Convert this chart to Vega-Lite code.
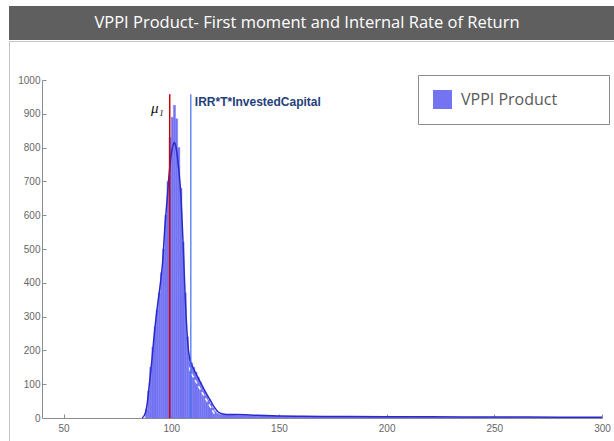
{
  "$schema": "https://vega.github.io/schema/vega-lite/v6.json",
  "padding": {"left": 8, "top": 6, "right": 0, "bottom": 0},
  "background": "white",
  "spacing": 0,
  "config": {"view": {"stroke": null}},
  "datasets": {
    "hist": [
      {"x0": 88, "x1": 89, "count": 25},
      {"x0": 89, "x1": 90, "count": 80},
      {"x0": 90, "x1": 91, "count": 150},
      {"x0": 91, "x1": 92, "count": 210},
      {"x0": 92, "x1": 93, "count": 270},
      {"x0": 93, "x1": 94, "count": 320},
      {"x0": 94, "x1": 95, "count": 370},
      {"x0": 95, "x1": 96, "count": 430},
      {"x0": 96, "x1": 97, "count": 500},
      {"x0": 97, "x1": 98, "count": 600},
      {"x0": 98, "x1": 99, "count": 700},
      {"x0": 99, "x1": 100, "count": 830},
      {"x0": 100, "x1": 101, "count": 890},
      {"x0": 101, "x1": 102, "count": 925},
      {"x0": 102, "x1": 103, "count": 885},
      {"x0": 103, "x1": 104, "count": 800},
      {"x0": 104, "x1": 105, "count": 680},
      {"x0": 105, "x1": 106, "count": 520},
      {"x0": 106, "x1": 107, "count": 370},
      {"x0": 107, "x1": 108, "count": 240},
      {"x0": 108, "x1": 109, "count": 180},
      {"x0": 109, "x1": 110, "count": 163},
      {"x0": 110, "x1": 111, "count": 150},
      {"x0": 111, "x1": 112, "count": 136},
      {"x0": 112, "x1": 113, "count": 121},
      {"x0": 113, "x1": 114, "count": 106},
      {"x0": 114, "x1": 115, "count": 92},
      {"x0": 115, "x1": 116, "count": 79},
      {"x0": 116, "x1": 117, "count": 66},
      {"x0": 117, "x1": 118, "count": 54},
      {"x0": 118, "x1": 119, "count": 42},
      {"x0": 119, "x1": 120, "count": 30},
      {"x0": 120, "x1": 121, "count": 20},
      {"x0": 121, "x1": 122, "count": 14},
      {"x0": 122, "x1": 123, "count": 11},
      {"x0": 123, "x1": 124, "count": 10},
      {"x0": 124, "x1": 125, "count": 10},
      {"x0": 125, "x1": 130, "count": 9},
      {"x0": 130, "x1": 135, "count": 8},
      {"x0": 135, "x1": 140, "count": 7},
      {"x0": 140, "x1": 145, "count": 7},
      {"x0": 145, "x1": 150, "count": 6},
      {"x0": 150, "x1": 155, "count": 5},
      {"x0": 155, "x1": 160, "count": 5},
      {"x0": 160, "x1": 165, "count": 5},
      {"x0": 165, "x1": 170, "count": 4},
      {"x0": 170, "x1": 175, "count": 4},
      {"x0": 175, "x1": 180, "count": 4},
      {"x0": 180, "x1": 185, "count": 4},
      {"x0": 185, "x1": 190, "count": 3},
      {"x0": 190, "x1": 195, "count": 3},
      {"x0": 195, "x1": 200, "count": 3},
      {"x0": 200, "x1": 205, "count": 3},
      {"x0": 205, "x1": 210, "count": 3},
      {"x0": 210, "x1": 215, "count": 2.5},
      {"x0": 215, "x1": 220, "count": 2.5},
      {"x0": 220, "x1": 225, "count": 2.5},
      {"x0": 225, "x1": 230, "count": 2},
      {"x0": 230, "x1": 235, "count": 2},
      {"x0": 235, "x1": 240, "count": 2},
      {"x0": 240, "x1": 245, "count": 2},
      {"x0": 245, "x1": 250, "count": 2},
      {"x0": 250, "x1": 255, "count": 2},
      {"x0": 255, "x1": 260, "count": 2},
      {"x0": 260, "x1": 265, "count": 1.5},
      {"x0": 265, "x1": 270, "count": 1.5},
      {"x0": 270, "x1": 275, "count": 1.5},
      {"x0": 275, "x1": 280, "count": 1.5},
      {"x0": 280, "x1": 285, "count": 1.5},
      {"x0": 285, "x1": 290, "count": 1.5},
      {"x0": 290, "x1": 295, "count": 1.5},
      {"x0": 295, "x1": 300, "count": 1.5}
    ],
    "density": [
      {"x": 86.5, "y": 0}, {"x": 88, "y": 15}, {"x": 89, "y": 50},
      {"x": 90, "y": 110}, {"x": 91, "y": 170}, {"x": 92, "y": 240}, {"x": 93, "y": 300},
      {"x": 94, "y": 350}, {"x": 95, "y": 400}, {"x": 96, "y": 460}, {"x": 97, "y": 560},
      {"x": 98, "y": 640}, {"x": 99, "y": 720}, {"x": 100, "y": 780}, {"x": 101, "y": 810},
      {"x": 101.4, "y": 815}, {"x": 102, "y": 808}, {"x": 103, "y": 765}, {"x": 104, "y": 700},
      {"x": 104.5, "y": 657}, {"x": 105, "y": 590}, {"x": 105.7, "y": 488}, {"x": 106.4, "y": 370},
      {"x": 107, "y": 290}, {"x": 108, "y": 200},
      {"x": 109, "y": 166}, {"x": 110, "y": 150}, {"x": 112, "y": 125}, {"x": 114, "y": 100},
      {"x": 116, "y": 76}, {"x": 118, "y": 54}, {"x": 120, "y": 32}, {"x": 122, "y": 17},
      {"x": 124, "y": 12}, {"x": 127, "y": 10}, {"x": 130, "y": 10}, {"x": 140, "y": 8},
      {"x": 150, "y": 6}, {"x": 160, "y": 5}, {"x": 180, "y": 4.5}, {"x": 200, "y": 4},
      {"x": 220, "y": 3.5}, {"x": 250, "y": 3}, {"x": 280, "y": 2.5}, {"x": 300, "y": 2}
    ],
    "fit": [
      {"x": 108.5, "y": 150}, {"x": 109, "y": 135}, {"x": 111, "y": 113}, {"x": 113, "y": 90},
      {"x": 115, "y": 68}, {"x": 117, "y": 46}, {"x": 119, "y": 24}, {"x": 120, "y": 13}
    ],
    "mu": [{"value": 99.3, "label": "μ₁"}],
    "irr": [{"value": 109.1, "label": "IRR*T*InvestedCapital"}]
  },
  "vconcat": [
    {
      "width": 606,
      "height": 34,
      "view": {"fill": "#5f5f5f", "stroke": null},
      "data": {"values": [{"title": "VPPI Product- First moment and Internal Rate of Return"}]},
      "mark": {"type": "text", "color": "white", "font": "Open Sans", "fontSize": 16.5, "baseline": "middle", "align": "center", "dx": -5},
      "encoding": {"text": {"field": "title", "type": "nominal"}}
    },
    {
      "width": 606,
      "height": 401,
      "view": {"fill": "white", "stroke": "#c4c4c4"},
      "layer": [
        {
          "data": {"name": "hist"},
          "mark": {"type": "rect", "stroke": "#7474f2", "strokeWidth": 0.4},
          "encoding": {
            "x": {
              "field": "x0", "type": "quantitative",
              "scale": {"domain": [40, 300], "range": [33, 593], "nice": false, "zero": false},
              "axis": {
                "title": null, "grid": false, "values": [50, 100, 150, 200, 250, 300], "format": "d",
                "offset": -24, "tickSize": -4, "labelPadding": 9, "labelFlush": false,
                "domainColor": "#8c8c8c", "tickColor": "#8c8c8c", "labelColor": "#666666",
                "labelFont": "Liberation Sans", "labelFontSize": 10
              }
            },
            "x2": {"field": "x1"},
            "y": {
              "field": "count", "type": "quantitative",
              "scale": {"domain": [0, 1000], "range": [377, 39], "nice": false},
              "axis": {
                "title": null, "grid": false, "values": [0, 100, 200, 300, 400, 500, 600, 700, 800, 900, 1000], "format": "d",
                "offset": -33, "tickSize": -4, "labelPadding": 6, "labelFlush": false,
                "domainColor": "#8c8c8c", "tickColor": "#8c8c8c", "labelColor": "#666666",
                "labelFont": "Liberation Sans", "labelFontSize": 10
              }
            },
            "y2": {"datum": 0},
            "color": {
              "datum": "VPPI Product",
              "scale": {"range": ["#7474f2"]},
              "legend": {
                "title": null, "orient": "none", "legendX": 409, "legendY": 69,
                "symbolType": "square", "symbolSize": 361, "symbolStrokeWidth": 0, "symbolOpacity": 1,
                "symbolFillColor": "#6666ff",
                "labelFont": "Open Sans", "labelFontSize": 16, "labelColor": "#595959",
                "labelOffset": 9, "padding": 15, "strokeColor": "#8c8c8c", "fillColor": "white",
                "labelExpr": "datum.label + '\u2800\u2800\u2800'"
              }
            }
          }
        },
        {
          "data": {"name": "fit"},
          "mark": {"type": "line", "color": "white", "strokeWidth": 1.5, "strokeDash": [4, 3]},
          "encoding": {
            "x": {"field": "x", "type": "quantitative"},
            "y": {"field": "y", "type": "quantitative"}
          }
        },
        {
          "data": {"name": "density"},
          "mark": {"type": "line", "color": "#2a2ac8", "strokeWidth": 1.5, "interpolate": "monotone"},
          "encoding": {
            "x": {"field": "x", "type": "quantitative"},
            "y": {"field": "y", "type": "quantitative"}
          }
        },
        {
          "data": {"name": "mu"},
          "mark": {"type": "rule", "color": "#cc0000", "strokeWidth": 1.5},
          "encoding": {
            "x": {"field": "value", "type": "quantitative"},
            "y": {"datum": 958, "type": "quantitative"},
            "y2": {"datum": 0}
          }
        },
        {
          "data": {"name": "irr"},
          "mark": {"type": "rule", "color": "#3d6cf0", "strokeWidth": 1.2},
          "encoding": {
            "x": {"field": "value", "type": "quantitative"},
            "y": {"datum": 958, "type": "quantitative"},
            "y2": {"datum": 0}
          }
        },
        {
          "data": {"name": "mu"},
          "mark": {"type": "text", "align": "right", "baseline": "middle", "dx": -6, "font": "Liberation Serif", "fontStyle": "italic", "fontSize": 15, "color": "#111111"},
          "encoding": {
            "x": {"field": "value", "type": "quantitative"},
            "y": {"datum": 918, "type": "quantitative"},
            "text": {"field": "label", "type": "nominal"}
          }
        },
        {
          "data": {"name": "irr"},
          "mark": {"type": "text", "align": "left", "baseline": "middle", "dx": 4, "font": "Liberation Sans", "fontWeight": "bold", "fontSize": 12, "color": "#24407a"},
          "encoding": {
            "x": {"field": "value", "type": "quantitative"},
            "y": {"datum": 935, "type": "quantitative"},
            "text": {"field": "label", "type": "nominal"}
          }
        }
      ]
    }
  ]
}
